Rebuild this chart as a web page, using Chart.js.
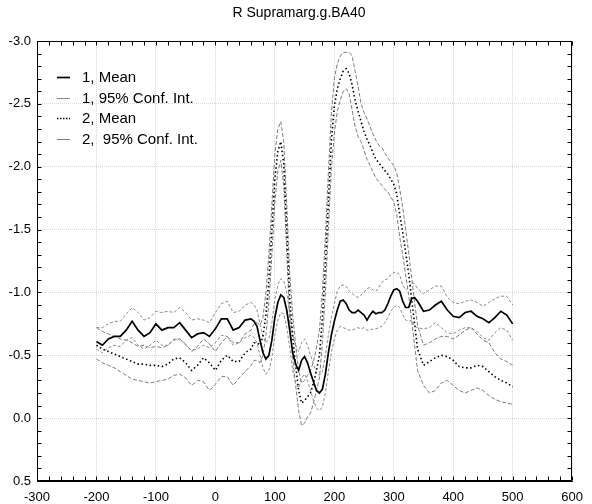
<!DOCTYPE html>
<html><head><meta charset="utf-8">
<script src="https://cdn.jsdelivr.net/npm/chart.js@4/dist/chart.umd.min.js"></script>
<style>html,body{margin:0;padding:0;background:#fff}#wrap{width:592px;height:504px}</style>
</head><body><div id="wrap"><canvas id="c" width="592" height="504"></canvas></div>
<script>
const titleText = 'R Supramarg.g.BA40';
const legendLabels = ['1, Mean', '1, 95% Conf. Int.', '2, Mean', '2,  95% Conf. Int.'];
const xTickValues = [-300, -200, -100, 0, 100, 200, 300, 400, 500, 600];
const yTickValues = [-3.0, -2.5, -2.0, -1.5, -1.0, -0.5, 0.0, 0.5];

const xValues = [
  -200,-190,-180,-170,-160,-150,-140,-130,-120,-110,-100,-90,-80,-70,-60,-50,-40,-30,-20,-10,0,10,20,30,40,50,
  60,65,70,75,80,85,90,95,
  100,105,110,115,120,125,130,135,140,145,150,155,160,165,170,175,180,185,190,195,
  200,205,210,215,220,225,230,235,240,245,250,255,260,265,270,275,280,285,290,295,
  300,305,310,315,320,325,330,335,340,
  350,360,370,380,390,400,410,420,430,440,450,460,470,480,490,500
];
const mean1 = [
  -0.61,-0.58,-0.63,-0.65,-0.65,-0.70,-0.77,-0.70,-0.65,-0.68,-0.75,-0.70,-0.72,-0.72,-0.76,-0.70,-0.64,-0.67,-0.68,-0.65,-0.71,-0.79,-0.79,-0.70,-0.72,-0.78,
  -0.79,-0.77,-0.73,-0.62,-0.52,-0.47,-0.50,-0.62,
  -0.80,-0.92,-0.98,-0.96,-0.86,-0.70,-0.52,-0.43,-0.38,-0.46,-0.49,-0.44,-0.36,-0.29,-0.22,-0.20,-0.23,-0.35,-0.52,-0.66,
  -0.77,-0.86,-0.93,-0.94,-0.91,-0.86,-0.84,-0.84,-0.86,-0.84,-0.82,-0.78,-0.82,-0.85,-0.83,-0.84,-0.84,-0.86,-0.91,-0.97,
  -1.02,-1.03,-1.01,-0.93,-0.88,-0.88,-0.95,-0.96,-0.93,
  -0.85,-0.86,-0.90,-0.93,-0.86,-0.81,-0.80,-0.84,-0.85,-0.81,-0.79,-0.76,-0.80,-0.85,-0.82,-0.75
];
const ci1Upper = [
  -0.72,-0.72,-0.75,-0.77,-0.77,-0.83,-0.88,-0.84,-0.78,-0.80,-0.85,-0.84,-0.85,-0.84,-0.88,-0.84,-0.78,-0.79,-0.78,-0.76,-0.84,-0.91,-0.93,-0.84,-0.85,-0.90,
  -0.92,-0.90,-0.86,-0.75,-0.65,-0.60,-0.63,-0.76,
  -0.94,-1.06,-1.11,-1.09,-1.00,-0.84,-0.66,-0.58,-0.53,-0.60,-0.63,-0.58,-0.50,-0.43,-0.36,-0.34,-0.37,-0.50,-0.66,-0.80,
  -0.91,-1.01,-1.05,-1.06,-1.05,-1.01,-0.99,-0.97,-0.96,-0.98,-1.00,-1.03,-1.04,-1.02,-1.01,-1.04,-1.08,-1.10,-1.11,-1.14,
  -1.16,-1.16,-1.14,-1.06,-1.02,-1.04,-1.08,-1.07,-1.03,
  -0.99,-1.02,-1.05,-1.05,-0.96,-0.92,-0.91,-0.93,-0.94,-0.92,-0.89,-0.92,-0.95,-0.97,-0.97,-0.90
];
const ci1Lower = [
  -0.55,-0.52,-0.56,-0.58,-0.57,-0.62,-0.64,-0.58,-0.55,-0.58,-0.62,-0.58,-0.58,-0.63,-0.63,-0.58,-0.54,-0.55,-0.58,-0.56,-0.60,-0.66,-0.65,-0.58,-0.60,-0.64,
  -0.66,-0.64,-0.60,-0.50,-0.40,-0.35,-0.38,-0.48,
  -0.66,-0.78,-0.84,-0.83,-0.72,-0.56,-0.38,-0.28,-0.24,-0.32,-0.35,-0.30,-0.22,-0.14,-0.08,-0.06,-0.09,-0.20,-0.37,-0.52,
  -0.63,-0.70,-0.73,-0.72,-0.71,-0.70,-0.70,-0.71,-0.72,-0.71,-0.72,-0.70,-0.70,-0.71,-0.71,-0.72,-0.73,-0.76,-0.80,-0.85,
  -0.88,-0.90,-0.88,-0.82,-0.78,-0.77,-0.78,-0.73,-0.72,
  -0.71,-0.72,-0.76,-0.72,-0.68,-0.67,-0.70,-0.72,-0.72,-0.69,-0.64,-0.62,-0.68,-0.72,-0.70,-0.62
];
const mean2 = [
  -0.58,-0.55,-0.53,-0.51,-0.49,-0.47,-0.45,-0.43,-0.43,-0.42,-0.42,-0.41,-0.43,-0.47,-0.48,-0.44,-0.38,-0.42,-0.48,-0.44,-0.38,-0.46,-0.50,-0.45,-0.45,-0.52,
  -0.55,-0.60,-0.60,-0.58,-0.65,-0.82,-1.10,-1.50,
  -1.90,-2.12,-2.20,-2.02,-1.50,-0.95,-0.65,-0.42,-0.22,-0.12,-0.14,-0.17,-0.20,-0.28,-0.38,-0.50,-0.80,-1.22,-1.72,-2.20,
  -2.48,-2.62,-2.70,-2.76,-2.78,-2.74,-2.65,-2.53,-2.44,-2.36,-2.28,-2.22,-2.17,-2.11,-2.06,-2.03,-2.00,-1.97,-1.94,-1.90,
  -1.86,-1.78,-1.62,-1.48,-1.32,-1.15,-0.95,-0.75,-0.55,
  -0.42,-0.45,-0.48,-0.50,-0.49,-0.46,-0.41,-0.40,-0.40,-0.42,-0.41,-0.37,-0.33,-0.30,-0.28,-0.25
];
const ci2Upper = [
  -0.72,-0.69,-0.67,-0.65,-0.63,-0.62,-0.60,-0.57,-0.58,-0.56,-0.57,-0.56,-0.58,-0.62,-0.63,-0.59,-0.53,-0.57,-0.63,-0.59,-0.53,-0.60,-0.65,-0.60,-0.60,-0.67,
  -0.70,-0.75,-0.76,-0.74,-0.80,-1.00,-1.30,-1.70,
  -2.10,-2.30,-2.36,-2.20,-1.70,-1.15,-0.82,-0.58,-0.38,-0.28,-0.30,-0.34,-0.38,-0.45,-0.56,-0.70,-1.00,-1.45,-1.95,-2.42,
  -2.70,-2.82,-2.88,-2.91,-2.91,-2.91,-2.88,-2.76,-2.64,-2.50,-2.43,-2.38,-2.32,-2.26,-2.21,-2.17,-2.15,-2.11,-2.07,-2.04,
  -2.01,-1.95,-1.82,-1.68,-1.50,-1.32,-1.12,-0.92,-0.74,
  -0.58,-0.60,-0.63,-0.65,-0.65,-0.63,-0.66,-0.70,-0.72,-0.67,-0.62,-0.60,-0.52,-0.47,-0.45,-0.42
];
const ci2Lower = [
  -0.47,-0.44,-0.42,-0.40,-0.37,-0.34,-0.31,-0.30,-0.29,-0.28,-0.29,-0.30,-0.31,-0.34,-0.35,-0.32,-0.26,-0.30,-0.29,-0.22,-0.27,-0.33,-0.33,-0.26,-0.32,-0.37,
  -0.42,-0.46,-0.46,-0.44,-0.50,-0.66,-0.92,-1.30,
  -1.72,-1.96,-2.05,-1.85,-1.32,-0.78,-0.48,-0.26,-0.06,0.06,0.04,-0.01,-0.04,-0.12,-0.22,-0.32,-0.60,-1.00,-1.50,-1.98,
  -2.26,-2.44,-2.53,-2.60,-2.62,-2.58,-2.45,-2.32,-2.24,-2.20,-2.13,-2.06,-2.01,-1.96,-1.91,-1.88,-1.85,-1.82,-1.80,-1.76,
  -1.72,-1.62,-1.44,-1.30,-1.14,-0.98,-0.78,-0.58,-0.38,
  -0.26,-0.20,-0.22,-0.28,-0.30,-0.26,-0.22,-0.20,-0.22,-0.24,-0.22,-0.18,-0.15,-0.13,-0.12,-0.11
];

const FONT = '"Liberation Sans", Arial, sans-serif';
const pts = arr => xValues.map((x, i) => ({x: x, y: arr[i]}));

const styleMean1 = {borderColor: '#000000', borderWidth: 1.7, borderDash: []};
const styleCI1 = {borderColor: '#8a8a8a', borderWidth: 1, borderDash: [3, 2]};
const styleMean2 = {borderColor: '#000000', borderWidth: 1.6, borderDash: [1.5, 2.6]};
const styleCI2 = {borderColor: '#7c7c7c', borderWidth: 1, borderDash: [4, 2]};
const legendStyles = [styleMean1, styleCI1, styleMean2, styleCI2];

function ds(label, arr, st) {
  return Object.assign({label: label, data: pts(arr), pointRadius: 0, tension: 0, fill: false}, st);
}

const framePlugin = {
  id: 'frame',
  afterDraw(chart) {
    const {ctx, chartArea: a, scales: {x, y}} = chart;
    ctx.save();
    ctx.font = '14px ' + FONT;
    ctx.fillStyle = '#000';
    ctx.textAlign = 'center';
    ctx.textBaseline = 'middle';
    ctx.fillText(titleText, 299, 13.5);
    ctx.textAlign = 'left';
    ctx.strokeStyle = '#000';
    ctx.lineWidth = 1;
    const L = Math.round(a.left) + 0.5, R = Math.round(a.right) - 0.5;
    const T = Math.round(a.top) + 0.5, B = Math.round(a.bottom) - 0.5;
    ctx.strokeRect(L, T, R - L, B - T);
    ctx.beginPath();
    for (let v = -300; v <= 600; v += 20) {
      const px = Math.round(x.getPixelForValue(v)) + 0.5;
      ctx.moveTo(px, B); ctx.lineTo(px, B - 4);
      ctx.moveTo(px, T); ctx.lineTo(px, T + 4);
    }
    for (let k = -30; k <= 5; k++) {
      const py = Math.round(y.getPixelForValue(k / 10)) + 0.5;
      ctx.moveTo(L, py); ctx.lineTo(L + 4, py);
      ctx.moveTo(R, py); ctx.lineTo(R - 4, py);
    }
    ctx.stroke();
    ctx.font = '15px ' + FONT;
    ctx.fillStyle = '#000';
    ctx.textBaseline = 'middle';
    const lx = a.left + 20, ty0 = a.top + 36;
    legendLabels.forEach((lab, i) => {
      const yy = Math.round(ty0 + i * 20.7) + 0.5;
      const st = legendStyles[i];
      ctx.beginPath();
      ctx.strokeStyle = st.borderColor;
      ctx.lineWidth = st.borderWidth;
      ctx.setLineDash(i === 2 ? [1.5, 1.5] : []);
      ctx.moveTo(lx, yy); ctx.lineTo(lx + 13, yy);
      ctx.stroke();
      ctx.setLineDash([]);
      ctx.fillText(lab, lx + 25, yy);
    });
    ctx.restore();
  }
};

new Chart(document.getElementById('c'), {
  type: 'line',
  data: {
    datasets: [
      ds(legendLabels[0], mean1, styleMean1),
      ds(legendLabels[2], mean2, styleMean2),
      ds(legendLabels[1], ci1Upper, styleCI1),
      ds(legendLabels[1] + ' (lower)', ci1Lower, styleCI1),
      ds(legendLabels[3], ci2Upper, styleCI2),
      ds(legendLabels[3] + ' (lower)', ci2Lower, styleCI2)
    ]
  },
  options: {
    responsive: false,
    animation: false,
    devicePixelRatio: 1,
    layout: {padding: {left: 0, right: 11, top: 41, bottom: 0}},
    plugins: {
      legend: {display: false},
      tooltip: {enabled: false},
      title: {display: false, text: titleText}
    },
    scales: {
      x: {
        type: 'linear', min: -300, max: 600,
        afterBuildTicks: s => { s.ticks = xTickValues.map(v => ({value: v})); },
        afterFit: s => { s.height = 23; },
        ticks: {color: '#000', padding: 9, maxRotation: 0, autoSkip: false,
          font: {family: FONT, size: 13}, callback: v => String(v)},
        grid: {color: '#d6d6d6', drawTicks: false, lineWidth: 1},
        border: {display: true, color: '#000', width: 1, dash: [1, 1]}
      },
      y: {
        type: 'linear', min: -3, max: 0.5, reverse: true,
        afterBuildTicks: s => { s.ticks = yTickValues.map(v => ({value: v})); },
        afterFit: s => { s.width = 37; },
        ticks: {color: '#000', padding: 6, autoSkip: false,
          font: {family: FONT, size: 13}, callback: v => Number(v).toFixed(1)},
        grid: {color: '#d6d6d6', drawTicks: false, lineWidth: 1},
        border: {display: true, color: '#000', width: 1, dash: [1, 1]}
      }
    }
  },
  plugins: [framePlugin]
});
</script>
</body></html>
